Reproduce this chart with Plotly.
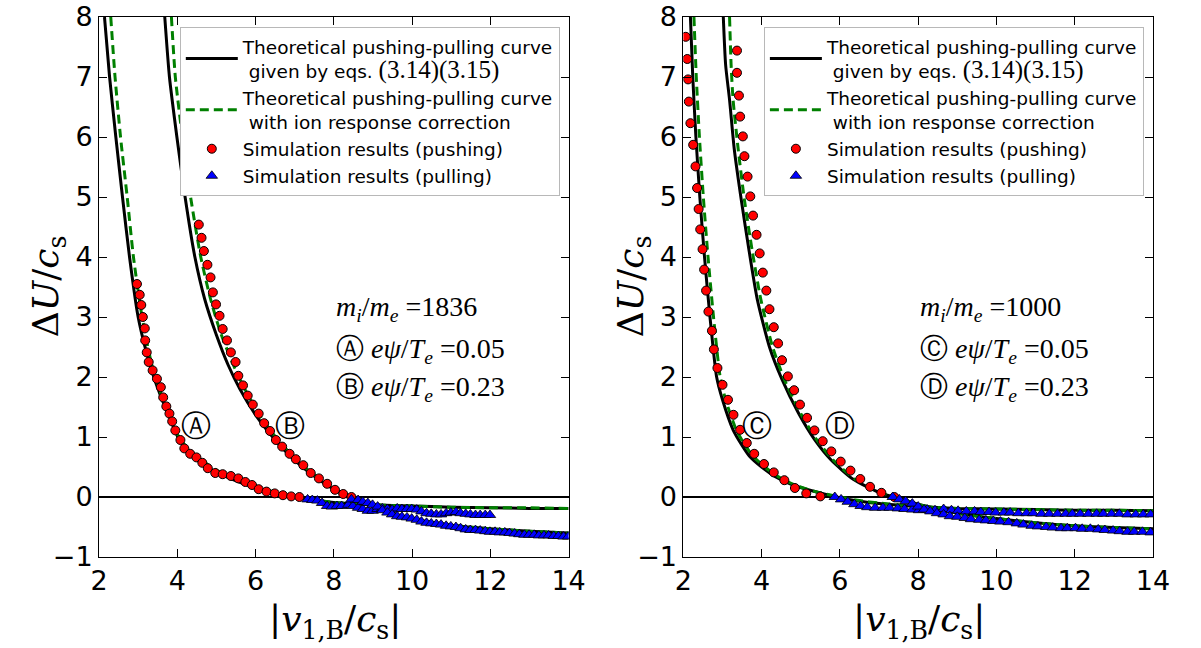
import plotly.graph_objects as go

# ---------------- data ----------------
# Left panel: m_i/m_e = 1836
L_thA_x = [2.14, 2.27, 2.43, 2.60, 2.78, 3.00, 3.20, 3.40, 3.62, 3.80, 4.03, 4.30, 4.70, 5.20, 5.70, 6.20, 6.70, 7.20, 8.0, 9.0, 10.0, 11.0, 12.0, 13.0, 14.0]
L_thA_y = [8.0, 7.0, 6.0, 5.0, 4.0, 3.0, 2.44, 2.0, 1.61, 1.33, 0.98, 0.75, 0.52, 0.35, 0.22, 0.12, 0.04, -0.02, -0.09, -0.13, -0.15, -0.17, -0.18, -0.19, -0.19]
L_icA_x = [2.30, 2.41, 2.55, 2.72, 2.88, 3.10, 3.35, 3.65, 4.00, 4.30, 4.60, 5.00, 5.50, 6.00, 6.50, 7.00, 7.50, 8.0, 9.0, 10.0, 11.0, 12.0, 13.0, 14.0]
L_icA_y = [8.0, 7.0, 6.0, 5.0, 4.0, 3.0, 2.2, 1.6, 1.05, 0.78, 0.62, 0.45, 0.30, 0.17, 0.08, 0.01, -0.05, -0.09, -0.13, -0.15, -0.17, -0.18, -0.18, -0.19]
L_thB_x = [3.68, 3.80, 3.99, 4.20, 4.45, 4.70, 5.00, 5.30, 5.60, 6.00, 6.40, 6.80, 7.20, 7.60, 8.00, 8.40, 8.80, 9.20, 9.60, 10.0, 10.5, 11.0, 12.0, 13.0, 14.0]
L_thB_y = [8.0, 7.0, 6.0, 5.0, 4.0, 3.3, 2.7, 2.2, 1.8, 1.37, 1.03, 0.74, 0.50, 0.30, 0.13, 0.0, -0.10, -0.20, -0.29, -0.36, -0.42, -0.47, -0.53, -0.57, -0.60]
L_icB_x = [3.85, 3.95, 4.13, 4.34, 4.60, 4.85, 5.10, 5.40, 5.70, 6.05, 6.45, 6.85, 7.25, 7.65, 8.05, 8.45, 8.80, 9.20, 9.60, 10.0, 10.5, 11.0, 12.0, 13.0, 14.0]
L_icB_y = [8.0, 7.0, 6.0, 5.0, 4.0, 3.3, 2.75, 2.25, 1.83, 1.42, 1.05, 0.75, 0.50, 0.30, 0.13, 0.0, -0.10, -0.20, -0.29, -0.36, -0.42, -0.47, -0.53, -0.57, -0.60]

L_pushA_x = [2.97, 3.04, 3.08, 3.12, 3.17, 3.18, 3.22, 3.27, 3.37, 3.48, 3.58, 3.64, 3.72, 3.80, 3.87, 3.95, 4.08, 4.18, 4.33, 4.49, 4.64, 4.78, 4.97, 5.16, 5.37, 5.56, 5.74, 5.91, 6.08, 6.28, 6.49, 6.70, 6.91, 7.12]
L_pushA_y = [3.55, 3.37, 3.20, 3.00, 2.81, 2.61, 2.41, 2.25, 2.11, 1.97, 1.83, 1.66, 1.51, 1.39, 1.26, 1.11, 0.95, 0.81, 0.72, 0.66, 0.57, 0.48, 0.40, 0.38, 0.35, 0.31, 0.25, 0.20, 0.13, 0.09, 0.06, 0.03, 0.01, 0.00]
L_pushB_x = [4.55, 4.62, 4.68, 4.77, 4.85, 4.91, 4.99, 5.08, 5.16, 5.27, 5.37, 5.49, 5.56, 5.68, 5.80, 5.93, 6.08, 6.22, 6.37, 6.52, 6.68, 6.87, 7.03, 7.22, 7.41, 7.62, 7.83, 8.03, 8.24, 8.45]
L_pushB_y = [4.54, 4.32, 4.10, 3.87, 3.66, 3.41, 3.21, 3.02, 2.80, 2.61, 2.41, 2.25, 2.02, 1.86, 1.69, 1.54, 1.39, 1.23, 1.10, 0.95, 0.84, 0.72, 0.63, 0.53, 0.40, 0.31, 0.22, 0.12, 0.05, 0.00]
L_pullA_x = [7.33, 7.45, 7.58, 7.70, 7.83, 7.95, 8.08, 8.20, 8.37, 8.49, 8.62, 8.74, 8.87, 8.99, 9.12, 9.24, 9.37, 9.49, 9.62, 9.74, 9.87, 9.99, 10.12, 10.24, 10.37, 10.49, 10.62, 10.74, 10.87, 10.99, 11.12, 11.24, 11.37, 11.49, 11.62, 11.74, 11.87, 11.99]
L_pullA_y = [-0.04, -0.05, -0.06, -0.10, -0.15, -0.16, -0.15, -0.15, -0.13, -0.15, -0.18, -0.20, -0.23, -0.23, -0.20, -0.19, -0.20, -0.21, -0.19, -0.20, -0.20, -0.20, -0.21, -0.24, -0.27, -0.28, -0.29, -0.29, -0.27, -0.26, -0.25, -0.27, -0.28, -0.29, -0.30, -0.30, -0.30, -0.30]
L_pullB_x = [8.45, 8.62, 8.74, 8.87, 8.99, 9.12, 9.24, 9.37, 9.49, 9.62, 9.74, 9.87, 9.99, 10.12, 10.24, 10.37, 10.49, 10.62, 10.74, 10.87, 10.99, 11.12, 11.24, 11.37, 11.49, 11.62, 11.74, 11.87, 11.99, 12.12, 12.24, 12.37, 12.49, 12.62, 12.74, 12.87, 12.99, 13.12, 13.24, 13.37, 13.49, 13.62, 13.74, 13.87, 13.99]
L_pullB_y = [-0.04, -0.05, -0.08, -0.10, -0.13, -0.16, -0.22, -0.26, -0.29, -0.32, -0.33, -0.34, -0.36, -0.38, -0.41, -0.43, -0.44, -0.45, -0.46, -0.48, -0.49, -0.50, -0.52, -0.54, -0.55, -0.55, -0.56, -0.57, -0.58, -0.58, -0.59, -0.59, -0.60, -0.61, -0.62, -0.63, -0.63, -0.63, -0.64, -0.64, -0.64, -0.65, -0.65, -0.66, -0.66]

# Right panel: m_i/m_e = 1000
R_thC_x = [2.18, 2.24, 2.32, 2.42, 2.54, 2.68, 2.85, 3.00, 3.27, 3.50, 3.69, 4.00, 4.35, 4.80, 5.19, 5.85, 6.50, 7.0, 8.0, 9.0, 10.0, 11.0, 12.0, 13.0, 14.0]
R_thC_y = [8.0, 7.0, 6.0, 5.0, 4.0, 3.0, 2.0, 1.62, 1.12, 0.86, 0.68, 0.50, 0.34, 0.20, 0.12, 0.01, -0.07, -0.11, -0.16, -0.19, -0.20, -0.21, -0.22, -0.22, -0.23]
R_icC_x = [2.27, 2.33, 2.41, 2.51, 2.63, 2.77, 2.94, 3.08, 3.35, 3.58, 3.78, 4.08, 4.42, 4.85, 5.25, 5.85, 6.50, 7.0, 8.0, 9.0, 10.0, 11.0, 12.0, 13.0, 14.0]
R_icC_y = [8.0, 7.0, 6.0, 5.0, 4.0, 3.0, 2.0, 1.62, 1.12, 0.86, 0.68, 0.50, 0.34, 0.20, 0.11, 0.02, -0.06, -0.10, -0.16, -0.19, -0.20, -0.21, -0.22, -0.22, -0.23]
R_thD_x = [3.02, 3.08, 3.18, 3.30, 3.48, 3.68, 3.89, 4.20, 4.52, 4.94, 5.35, 5.77, 6.35, 7.02, 7.50, 8.0, 8.5, 9.0, 10.0, 11.0, 12.0, 13.0, 14.0]
R_thD_y = [8.0, 7.2, 6.62, 5.8, 4.95, 4.1, 3.29, 2.5, 1.96, 1.40, 0.96, 0.62, 0.29, 0.07, -0.02, -0.12, -0.20, -0.27, -0.36, -0.43, -0.48, -0.51, -0.53]
R_icD_x = [3.18, 3.22, 3.27, 3.40, 3.56, 3.76, 3.98, 4.28, 4.58, 4.99, 5.40, 5.82, 6.40, 7.05, 7.50, 8.0, 8.5, 9.0, 10.0, 11.0, 12.0, 13.0, 14.0]
R_icD_y = [8.0, 7.2, 6.62, 5.8, 4.95, 4.1, 3.29, 2.5, 1.96, 1.40, 0.96, 0.62, 0.29, 0.07, -0.02, -0.12, -0.20, -0.27, -0.36, -0.43, -0.48, -0.51, -0.53]

R_pushC_x = [2.06, 2.10, 2.12, 2.14, 2.18, 2.25, 2.31, 2.35, 2.39, 2.43, 2.49, 2.53, 2.58, 2.64, 2.73, 2.78, 2.87, 3.00, 3.14, 3.28, 3.45, 3.62, 3.81, 4.06, 4.31, 4.58, 4.85, 5.14, 5.50]
R_pushC_y = [7.67, 7.30, 6.96, 6.59, 6.23, 5.87, 5.51, 5.15, 4.80, 4.46, 4.13, 3.79, 3.44, 3.09, 2.77, 2.46, 2.15, 1.87, 1.62, 1.37, 1.12, 0.90, 0.72, 0.55, 0.41, 0.28, 0.15, 0.06, 0.01]
R_pushD_x = [3.37, 3.37, 3.42, 3.45, 3.52, 3.56, 3.64, 3.71, 3.78, 3.87, 3.95, 4.03, 4.12, 4.20, 4.31, 4.42, 4.52, 4.67, 4.83, 4.98, 5.16, 5.35, 5.56, 5.78, 6.02, 6.27, 6.52, 6.77, 7.06, 7.39]
R_pushD_y = [7.44, 7.07, 6.69, 6.34, 6.01, 5.68, 5.34, 5.01, 4.69, 4.37, 4.06, 3.74, 3.44, 3.13, 2.83, 2.56, 2.28, 2.01, 1.78, 1.54, 1.32, 1.11, 0.93, 0.76, 0.59, 0.44, 0.30, 0.17, 0.07, 0.00]
R_pullC_x = [5.87, 6.03, 6.20, 6.37, 6.53, 6.70, 6.90, 7.10, 7.27, 7.48, 7.65, 7.85, 8.02, 8.23, 8.43, 8.65, 8.85, 9.02, 9.23, 9.44, 9.60, 9.81, 9.98, 10.19, 10.35, 10.56, 10.77, 10.94, 11.15, 11.35, 11.56, 11.77, 11.94, 12.14, 12.35, 12.56, 12.73, 12.94, 13.14, 13.35, 13.56, 13.75, 13.94]
R_pullC_y = [0.00, -0.04, -0.08, -0.12, -0.15, -0.17, -0.18, -0.18, -0.18, -0.19, -0.20, -0.21, -0.22, -0.21, -0.22, -0.20, -0.22, -0.23, -0.24, -0.24, -0.25, -0.25, -0.26, -0.26, -0.26, -0.27, -0.27, -0.27, -0.28, -0.28, -0.28, -0.28, -0.28, -0.28, -0.28, -0.28, -0.28, -0.28, -0.28, -0.29, -0.29, -0.29, -0.29]
R_pullD_x = [7.35, 7.52, 7.68, 7.85, 8.00, 8.15, 8.31, 8.48, 8.65, 8.81, 9.00, 9.19, 9.35, 9.56, 9.73, 9.92, 10.10, 10.31, 10.52, 10.69, 10.90, 11.06, 11.27, 11.44, 11.65, 11.81, 12.02, 12.19, 12.40, 12.60, 12.77, 12.98, 13.15, 13.35, 13.52, 13.73, 13.94]
R_pullD_y = [0.00, -0.04, -0.07, -0.11, -0.16, -0.21, -0.24, -0.27, -0.29, -0.32, -0.33, -0.35, -0.37, -0.38, -0.39, -0.40, -0.41, -0.42, -0.44, -0.46, -0.48, -0.49, -0.50, -0.51, -0.52, -0.52, -0.52, -0.53, -0.53, -0.54, -0.55, -0.56, -0.57, -0.58, -0.58, -0.58, -0.59]

x_ticks = [2, 4, 6, 8, 10, 12, 14]
y_ticks = [-1, 0, 1, 2, 3, 4, 5, 6, 7, 8]

# ---------------- figure ----------------
W, H = 1201, 648
MT, MB = 17, 91
PH = H - MT - MB
SERIF = "Liberation Serif"
MATH = "DejaVu Serif"

LEG_BLACK = ("Theoretical pushing-pulling curve<br>\u00a0given by eqs. "
             "<span style=\"font-family:Liberation Serif;font-size:25px\">(3.14)(3.15)</span>")
LEG_GREEN = "Theoretical pushing-pulling curve<br>\u00a0with ion response correction"
LEG_RED = "Simulation results (pushing)"
LEG_BLUE = "Simulation results (pulling)"

fig = go.Figure()


def add_panel(xa, ya, leg, th, ic, push, pull):
    for i, (x, y) in enumerate(th):
        fig.add_trace(go.Scatter(x=x, y=y, xaxis=xa, yaxis=ya, mode="lines", legend=leg,
                                 name=LEG_BLACK, showlegend=(i == 0), legendgroup=leg + "k",
                                 line=dict(color="black", width=3, shape="spline", smoothing=0.6)))
    for i, (x, y) in enumerate(ic):
        fig.add_trace(go.Scatter(x=x, y=y, xaxis=xa, yaxis=ya, mode="lines", legend=leg,
                                 name=LEG_GREEN, showlegend=(i == 0), legendgroup=leg + "g",
                                 line=dict(color="#008000", width=3, dash="9px,5px",
                                           shape="spline", smoothing=0.6)))
    for i, (x, y) in enumerate(push):
        fig.add_trace(go.Scatter(x=x, y=y, xaxis=xa, yaxis=ya, mode="markers", legend=leg,
                                 name=LEG_RED, showlegend=(i == 0), legendgroup=leg + "r",
                                 marker=dict(symbol="circle", size=9, color="#ff0000",
                                             line=dict(color="black", width=1))))
    for i, (x, y) in enumerate(pull):
        fig.add_trace(go.Scatter(x=x, y=y, xaxis=xa, yaxis=ya, mode="markers", legend=leg,
                                 name=LEG_BLUE, showlegend=(i == 0), legendgroup=leg + "b",
                                 marker=dict(symbol="triangle-up", size=10, color="#0000ff",
                                             line=dict(color="black", width=0.8))))


add_panel("x", "y", "legend",
          [(L_thA_x, L_thA_y), (L_thB_x, L_thB_y)],
          [(L_icA_x, L_icA_y), (L_icB_x, L_icB_y)],
          [(L_pushA_x, L_pushA_y), (L_pushB_x, L_pushB_y)],
          [(L_pullA_x, L_pullA_y), (L_pullB_x, L_pullB_y)])
add_panel("x2", "y2", "legend2",
          [(R_thC_x, R_thC_y), (R_thD_x, R_thD_y)],
          [(R_icC_x, R_icC_y), (R_icD_x, R_icD_y)],
          [(R_pushC_x, R_pushC_y), (R_pushD_x, R_pushD_y)],
          [(R_pullC_x, R_pullC_y), (R_pullD_x, R_pullD_y)])

axis_common = dict(showgrid=False, showline=True, linecolor="black", linewidth=1,
                   ticks="inside", ticklen=8, tickwidth=1, tickcolor="black", mirror="allticks",
                   tickfont=dict(family="DejaVu Sans", size=27, color="black"))

xdom_L = [92 / W, 572 / W]
xdom_R = [689.3 / W, 1169.3 / W]

leg_common = dict(yanchor="top", y=(H - MB - 27) / PH, xanchor="right",
                  bgcolor="white", bordercolor="#b8b8b8", borderwidth=1,
                  font=dict(family="DejaVu Sans", size=18.5, color="black"),
                  tracegroupgap=0, itemsizing="trace", itemwidth=52)

fig.update_layout(
    width=W, height=H,
    margin=dict(l=0, r=0, t=MT, b=MB),
    plot_bgcolor="white", paper_bgcolor="white",
    xaxis=dict(domain=xdom_L, range=[2, 14], tickvals=x_ticks, zeroline=False, anchor="y", **axis_common),
    yaxis=dict(domain=[0, 1], range=[-1, 8], tickvals=y_ticks, anchor="x",
               zeroline=True, zerolinecolor="black", zerolinewidth=1.5, **axis_common),
    xaxis2=dict(domain=xdom_R, range=[2, 14], tickvals=x_ticks, zeroline=False, anchor="y2", **axis_common),
    yaxis2=dict(domain=[0, 1], range=[-1, 8], tickvals=y_ticks, anchor="x2",
                zeroline=True, zerolinecolor="black", zerolinewidth=1.5, **axis_common),
    legend=dict(x=563 / W, **leg_common),
    legend2=dict(x=1160 / W, **leg_common),
    showlegend=True,
)


def ypap(px):
    return (H - MB - px) / PH


ann = []
# axis titles
for cx in (333, 930):
    ann.append(dict(x=cx / W, y=ypap(621), xref="paper", yref="paper", showarrow=False,
                    xanchor="center", yanchor="middle",
                    text="|<i>v</i><sub>1,B</sub>/<i>c</i><sub>s</sub>|",
                    font=dict(family=MATH, size=36, color="black")))
for cx in (40, 638):
    ann.append(dict(x=cx / W, y=ypap(286), xref="paper", yref="paper", showarrow=False, textangle=-90,
                    xanchor="center", yanchor="middle",
                    text="\u0394<i>U</i>/<i>c</i><sub>s</sub>",
                    font=dict(family=MATH, size=36, color="black")))

# circled curve labels
for xr, yr, t, xv in (("x", "y", "\u24b6", 4.49), ("x", "y", "\u24b7", 6.88),
                      ("x2", "y2", "\u24b8", 3.89), ("x2", "y2", "\u24b9", 5.99)):
    ann.append(dict(x=xv, y=1.2, xref=xr, yref=yr, showarrow=False, text=t,
                    xanchor="center", yanchor="middle",
                    font=dict(family="DejaVu Sans", size=30, color="black")))

# parameter text blocks
for xr, yr, mass, c1, c2 in (("x", "y", "1836", "\u24b6", "\u24b7"),
                              ("x2", "y2", "1000", "\u24b8", "\u24b9")):
    ann.append(dict(x=8.0, y=3.15, xref=xr, yref=yr, showarrow=False, xanchor="left", yanchor="middle",
                    text="<i>m</i><sub><i>i</i></sub>/<i>m</i><sub><i>e</i></sub> =" + mass,
                    font=dict(family=SERIF, size=28, color="black")))
    for yv, c, v in ((2.45, c1, "0.05"), (1.82, c2, "0.23")):
        ann.append(dict(x=8.0, y=yv, xref=xr, yref=yr, showarrow=False, xanchor="left", yanchor="middle",
                        text="<span style=\"font-family:DejaVu Sans;font-size:28px\">" + c + "</span> "
                             "<i>e\u03c8</i>/<i>T</i><sub><i>e</i></sub> =" + v,
                        font=dict(family=SERIF, size=28, color="black")))

fig.update_layout(annotations=ann)
fig.write_html("out.html")
